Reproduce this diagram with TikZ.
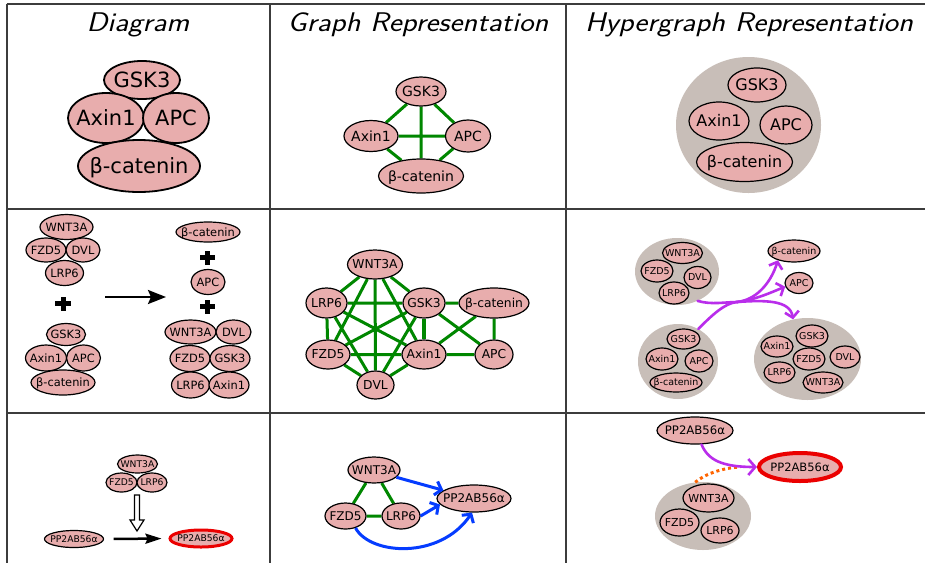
\documentclass[tikz,border=0pt]{standalone}
\usepackage{fontspec}
\newfontfamily\dejavu{DejaVu Sans}
\usetikzlibrary{shapes.geometric,arrows.meta,calc}
\pgfdeclarelayer{paper}
\pgfdeclarelayer{background}
\pgfsetlayers{paper,background,main}

\definecolor{protfill}{RGB}{232,173,173}
\definecolor{cpxfill}{RGB}{200,190,184}
\definecolor{edgegreen}{RGB}{0,135,0}
\definecolor{hyperpurple}{RGB}{185,45,235}
\definecolor{arrowblue}{RGB}{5,60,255}
\definecolor{activered}{RGB}{235,0,0}
\definecolor{dotorange}{RGB}{255,100,0}
\definecolor{gridline}{RGB}{60,60,60}

% zero-width label so that the ellipse keeps its given size
\newcommand\ptxt[1]{\makebox[0pt]{#1}}
% slightly widened sans oblique for the column titles
\newcommand\hdr[1]{\scalebox{1.14}[1]{#1}}

\tikzset{
  prot/.style={ellipse, draw=black, fill=protfill, line width=1.2pt, inner sep=0pt, text=black},
  cpx/.style={ellipse, fill=cpxfill, inner sep=0pt},
  sz/.style 2 args={minimum width=#1pt, minimum height=#2pt},
  fs/.style={font=\dejavu\fontsize{#1}{#1}\selectfont, text height=#1pt*0.73, text depth=0pt},
  active/.style={draw=activered},
  header/.style={font=\sffamily\itshape\fontsize{27}{30}\selectfont, anchor=base, inner sep=0pt},
  gridl/.style={draw=gridline, line width=2pt},
  gedge/.style={draw=edgegreen, line width=3pt},
  reaction/.style={draw=black, line width=2.5pt},
  hyper/.style={draw=hyperpurple, line width=2.6pt, line cap=round},
  hypertip/.style={-{Straight Barb[length=6pt,width=14pt]}},
  blu/.style={draw=arrowblue, line width=3pt, -{Straight Barb[length=6pt,width=14pt]}},
  dotted link/.style={draw=dotorange, line width=3pt, dash pattern=on 3pt off 3pt},
  plussign/.pic={\fill (-7.8,-2.5) rectangle (7.8,2.5); \fill (-2.5,-7) rectangle (2.5,7);}
}

\begin{document}
\begin{tikzpicture}[x=1pt,y=-1pt]
\useasboundingbox (0,0) rectangle (925,563);
\begin{pgfonlayer}{paper}
  \fill[white] (0,0) rectangle (925,563);
\end{pgfonlayer}

% table rules
\draw[gridl] (6.5,4) -- (925,4);
\draw[gridl] (6.5,209) -- (925,209);
\draw[gridl] (6.5,413) -- (925,413);
\draw[gridl] (6.5,4) -- (6.5,563);
\draw[gridl] (270,4) -- (270,563);
\draw[gridl] (566,4) -- (566,563);

% column headers
\node[header] (hDiag) at (138,31.5) {\hdr{Diagram}};
\node[header] (hGraph) at (418,31.5) {\hdr{Graph Representation}};
\node[header] (hHyper) at (749,31.5) {\hdr{Hypergraph Representation}};

% ---------- row 1: destruction complex ----------
\node[prot, fs=21, line width=1.8pt, sz={76}{38}] (aG) at (142,80) {\ptxt{GSK3}};
\node[prot, fs=21, line width=1.8pt, sz={76}{50}] (aX) at (106,118) {\ptxt{Axin1}};
\node[prot, fs=21, line width=1.8pt, sz={66}{50}] (aP) at (176,118) {\ptxt{APC}};
\node[prot, fs=21, line width=1.8pt, sz={122}{52}] (aB) at (139,166) {\ptxt{β-catenin}};

\node[prot, fs=14, sz={50}{29}] (bG) at (421,91.5) {\ptxt{GSK3}};
\node[prot, fs=14, sz={54}{31}] (bX) at (371,136) {\ptxt{Axin1}};
\node[prot, fs=14, sz={45}{32}] (bP) at (468,136) {\ptxt{APC}};
\node[prot, fs=14, sz={85}{34}] (bB) at (421,176) {\ptxt{β-catenin}};
\begin{pgfonlayer}{background}
  \draw[gedge] (bG) -- (bX) (bG) -- (bP) (bG) -- (bB)
               (bX) -- (bP) (bX) -- (bB) (bP) -- (bB);
\end{pgfonlayer}

\node[cpx, sz={145}{136}] (cC) at (748.5,125) {};
\node[prot, fs=16, sz={58}{34}] (cG) at (757,85) {\ptxt{GSK3}};
\node[prot, fs=16, sz={60}{38}] (cX) at (719,121) {\ptxt{Axin1}};
\node[prot, fs=16, sz={52}{38}] (cP) at (786,125) {\ptxt{APC}};
\node[prot, fs=16, sz={96}{39}] (cB) at (744.5,162) {\ptxt{β-catenin}};

% ---------- row 2: Wnt signalling ----------
\node[prot, fs=11.4, sz={53}{25}] (dW) at (66.5,227) {\ptxt{WNT3A}};
\node[prot, fs=11.4, sz={40}{24}] (dF) at (46,250) {\ptxt{FZD5}};
\node[prot, fs=11.4, sz={34}{24}] (dD) at (83,250) {\ptxt{DVL}};
\node[prot, fs=11.4, sz={38}{25}] (dL) at (64.5,273) {\ptxt{LRP6}};
\pic at (63,303.5) {plussign};
\node[prot, fs=11.4, sz={39}{22}] (dG) at (66,334.5) {\ptxt{GSK3}};
\node[prot, fs=11.4, sz={41}{26}] (dX) at (46,358) {\ptxt{Axin1}};
\node[prot, fs=11.4, sz={34}{26}] (dP) at (83.5,358) {\ptxt{APC}};
\node[prot, fs=11.4, sz={64}{25}] (dB) at (63,382.5) {\ptxt{β-catenin}};

\coordinate (dArrS) at (105,297);
\coordinate (dArrE) at (166,297);
\draw[reaction, -{Stealth[length=18pt,width=14pt,inset=3pt]}] (dArrS) -- (dArrE);

\node[prot, fs=11.4, sz={64}{20}] (dB2) at (208,232) {\ptxt{β-catenin}};
\pic at (207.5,257.5) {plussign};
\node[prot, fs=11.4, sz={34}{25}] (dP2) at (208,282) {\ptxt{APC}};
\pic at (207.5,306.5) {plussign};
\node[prot, fs=11.4, sz={51}{24}] (dW2) at (190.5,332) {\ptxt{WNT3A}};
\node[prot, fs=11.4, sz={35}{24}] (dD2) at (233.5,332) {\ptxt{DVL}};
\node[prot, fs=11.4, sz={40}{26}] (dF2) at (190,358.5) {\ptxt{FZD5}};
\node[prot, fs=11.4, sz={40}{26}] (dG2) at (230,358.5) {\ptxt{GSK3}};
\node[prot, fs=11.4, sz={38}{26}] (dL2) at (190.5,385) {\ptxt{LRP6}};
\node[prot, fs=11.4, sz={40}{26}] (dX2) at (229,385) {\ptxt{Axin1}};

% graph view
\node[prot, fs=12.3, sz={55}{29}] (eW) at (375,264.5) {\ptxt{WNT3A}};
\node[prot, fs=12.3, sz={41}{30}] (eL) at (326.5,303) {\ptxt{LRP6}};
\node[prot, fs=12.3, sz={42}{30}] (eG) at (424,303) {\ptxt{GSK3}};
\node[prot, fs=12.3, sz={70}{30}] (eB) at (494,303) {\ptxt{β-catenin}};
\node[prot, fs=12.3, sz={44}{29}] (eF) at (328,354.5) {\ptxt{FZD5}};
\node[prot, fs=12.3, sz={44}{29}] (eX) at (424,354.5) {\ptxt{Axin1}};
\node[prot, fs=12.3, sz={38}{29}] (eP) at (494,354.5) {\ptxt{APC}};
\node[prot, fs=12.3, sz={37}{28}] (eD) at (375.5,385) {\ptxt{DVL}};
\begin{pgfonlayer}{background}
  \draw[gedge] (eW) -- (eL) (eW) -- (eG) (eW) -- (eF) (eW) -- (eX) (eW) -- (eD)
               (eL) -- (eG) (eL) -- (eF) (eL) -- (eX) (eL) -- (eD)
               (eG) -- (eF) (eG) -- (eD) (eF) -- (eX) (eF) -- (eD) (eX) -- (eD)
               (eG) -- (eB) (eG) -- (eP) (eB) -- (eP) (eB) -- (eX) (eX) -- (eP);
  \draw[gedge, line width=4.5pt] (eG) -- (eX);
\end{pgfonlayer}

% hypergraph view
\node[cpx, sz={84}{67}] (fA) at (677,271.5) {};
\node[prot, fs=9.5, sz={40}{21}] (fW) at (682.5,253) {\ptxt{WNT3A}};
\node[prot, fs=9.5, sz={32}{22}] (fF) at (657,271) {\ptxt{FZD5}};
\node[prot, fs=9.5, sz={27}{22}] (fD) at (697.5,277.5) {\ptxt{DVL}};
\node[prot, fs=9.5, sz={30}{22}] (fL) at (674,293) {\ptxt{LRP6}};

\node[cpx, sz={80}{75}] (fBx) at (678,361.5) {};
\node[prot, fs=9.5, sz={33}{20}] (fG) at (683.5,339) {\ptxt{GSK3}};
\node[prot, fs=9.5, sz={32}{22}] (fX) at (662,359) {\ptxt{Axin1}};
\node[prot, fs=9.5, sz={28}{22}] (fP) at (699,361) {\ptxt{APC}};
\node[prot, fs=9.5, sz={52}{19}] (fB) at (676,382.5) {\ptxt{β-catenin}};

\node[prot, fs=9.5, sz={52}{22}] (fB2) at (794,251) {\ptxt{β-catenin}};
\node[prot, fs=9.5, sz={28}{21}] (fP2) at (799,283) {\ptxt{APC}};

\node[cpx, sz={107}{82}] (fC) at (807.5,359) {};
\node[prot, fs=9.5, sz={32}{22}] (fG3) at (812,336) {\ptxt{GSK3}};
\node[prot, fs=9.5, sz={32}{21}] (fX3) at (777,346.5) {\ptxt{Axin1}};
\node[prot, fs=9.5, sz={32}{22}] (fF3) at (809,359) {\ptxt{FZD5}};
\node[prot, fs=9.5, sz={30}{22}] (fD3) at (845,357) {\ptxt{DVL}};
\node[prot, fs=9.5, sz={31}{21}] (fL3) at (779.5,372.5) {\ptxt{LRP6}};
\node[prot, fs=9.5, sz={40}{21}] (fW3) at (823,382.5) {\ptxt{WNT3A}};

\coordinate (fJ) at (737,302);
\draw[hyper] (fA.-55) .. controls (712,305) and (725,302) .. (fJ);
\draw[hyper] (fBx.58) .. controls (712,315) and (725,303) .. (fJ);
\draw[hyper, hypertip] (fJ) .. controls (755,300) and (770,285) .. (fB2.210);
\draw[hyper, hypertip] (fJ) .. controls (755,300) and (772,292) .. (fP2.195);
\draw[hyper, hypertip] (fJ) .. controls (765,300) and (790,300) .. (fC.110);

% ---------- row 3: PP2A activation ----------
\node[prot, fs=9.2, sz={40}{18}] (gW) at (137.5,464) {\ptxt{WNT3A}};
\node[prot, fs=9.2, sz={31}{19}] (gF) at (121.5,482.5) {\ptxt{FZD5}};
\node[prot, fs=9.2, sz={30}{19}] (gL) at (152,482.5) {\ptxt{LRP6}};
\node[prot, fs=9.2, sz={59}{17}] (gPa) at (74,539) {\ptxt{PP2AB56α}};
\node[prot, active, fs=9.2, line width=3pt, sz={62}{17}] (gPb) at (201,538.5) {\ptxt{PP2AB56α}};
\draw[reaction, shorten <=9.5pt, shorten >=7pt, -{Stealth[length=16pt,width=10pt,inset=2pt]}] (gPa.east) -- (gPb.west);
% hollow modifier arrow
\draw[draw=black, fill=white, line width=1.2pt]
  (134.5,495) -- (139.5,495) -- (139.5,520) -- (144,520) -- (137,531)
  -- (130,520) -- (134.5,520) -- cycle;

% graph view
\node[prot, fs=12, sz={52}{26}] (hW) at (374,470) {\ptxt{WNT3A}};
\node[prot, fs=12, sz={41}{26}] (hF) at (345.5,516) {\ptxt{FZD5}};
\node[prot, fs=12, sz={38}{26}] (hL) at (401,516) {\ptxt{LRP6}};
\node[prot, fs=12, sz={74}{27}] (hP) at (474,498.5) {\ptxt{PP2AB56α}};
\begin{pgfonlayer}{background}
  \draw[gedge] (hW) -- (hF) (hW) -- (hL) (hF) -- (hL);
\end{pgfonlayer}
\draw[blu] (hW.-18) -- (hP.165);
\draw[blu] (hL.east) -- (hP.190);
\draw[blu] (hF.-50) .. controls (370,555) and (440,560) .. (hP.-98);

% hypergraph view
\node[prot, fs=11.7, sz={76}{27}] (kPa) at (695,430.5) {\ptxt{PP2AB56α}};
\node[prot, active, fs=11.5, line width=4pt, sz={82}{28}] (kPb) at (800,467) {\ptxt{PP2AB56α}};
\node[cpx, sz={96}{68}] (kC) at (703,516) {};
\node[prot, fs=11, sz={51}{28}] (kW) at (708.5,498) {\ptxt{WNT3A}};
\node[prot, fs=11, sz={39}{27}] (kF) at (679.5,522.5) {\ptxt{FZD5}};
\node[prot, fs=11, sz={38}{25}] (kL) at (720,530.5) {\ptxt{LRP6}};
\coordinate (kM) at (740,467);
\draw[dotted link] (kC.103) .. controls (705,474) and (722,468) .. (kM);
\draw[hyper, -{Straight Barb[length=7pt,width=16pt]}] (kPa.-65) .. controls (708,460) and (722,467) .. (kPb.west);
\end{tikzpicture}
\end{document}
